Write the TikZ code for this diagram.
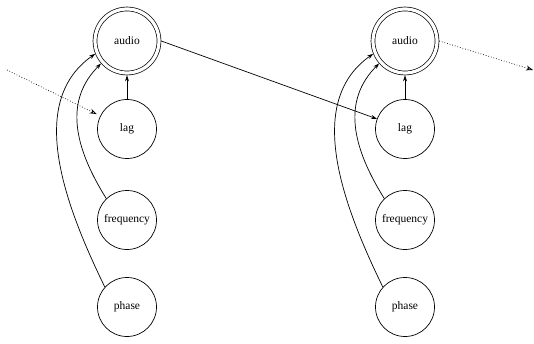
\documentclass[tikz,border=0pt]{standalone}
\usepackage{fontspec}
\setmainfont{Liberation Serif}
\usetikzlibrary{arrows.meta}
\begin{document}
\begin{tikzpicture}[x=1pt,y=1pt,
  every node/.style={font=\fontsize{11.5}{13}\selectfont},
  var/.style={circle,draw,line width=0.7pt,minimum size=59pt,inner sep=0pt},
  outvar/.style={circle,draw,line width=0.7pt,double,double distance=3.2pt,minimum size=64pt,inner sep=0pt,outer sep=2.3pt},
  link/.style={line width=0.7pt,-{Stealth[length=6pt,width=4pt]}},
  tlink/.style={line width=0.7pt,dotted,-{Stealth[open,length=7pt,width=5pt]}}]
\useasboundingbox (0,0) rectangle (534,343);
% left column
\node[outvar] (audioA) at (127,302) {audio};
\node[var] (lagA) at (127,214) {lag};
\node[var] (freqA) at (127,123) {frequency};
\node[var] (phaseA) at (127,36) {phase};
% right column
\node[outvar] (audioB) at (405,302) {audio};
\node[var] (lagB) at (405,214) {lag};
\node[var] (freqB) at (405,123) {frequency};
\node[var] (phaseB) at (405,36) {phase};
\coordinate (inA) at (7,273);
\coordinate (outB) at (533,273);
% connectors
\draw[link] (lagA) -- (audioA);
\draw[link] (lagB) -- (audioB);
\draw[link] (freqA.134) .. controls +(122:62) and +(225:52) .. (audioA.221);
\draw[link] (freqB.134) .. controls +(122:62) and +(225:52) .. (audioB.221);
\draw[link] (phaseA.138) .. controls +(116:98) and +(215:82) .. (audioA.202);
\draw[link] (phaseB.138) .. controls +(116:98) and +(215:82) .. (audioB.202);
\draw[link] (audioA.east) -- (lagB);
\draw[tlink,shorten >=4pt] (inA) -- (lagA);
\draw[tlink] (audioB.east) -- (outB);
\end{tikzpicture}
\end{document}
